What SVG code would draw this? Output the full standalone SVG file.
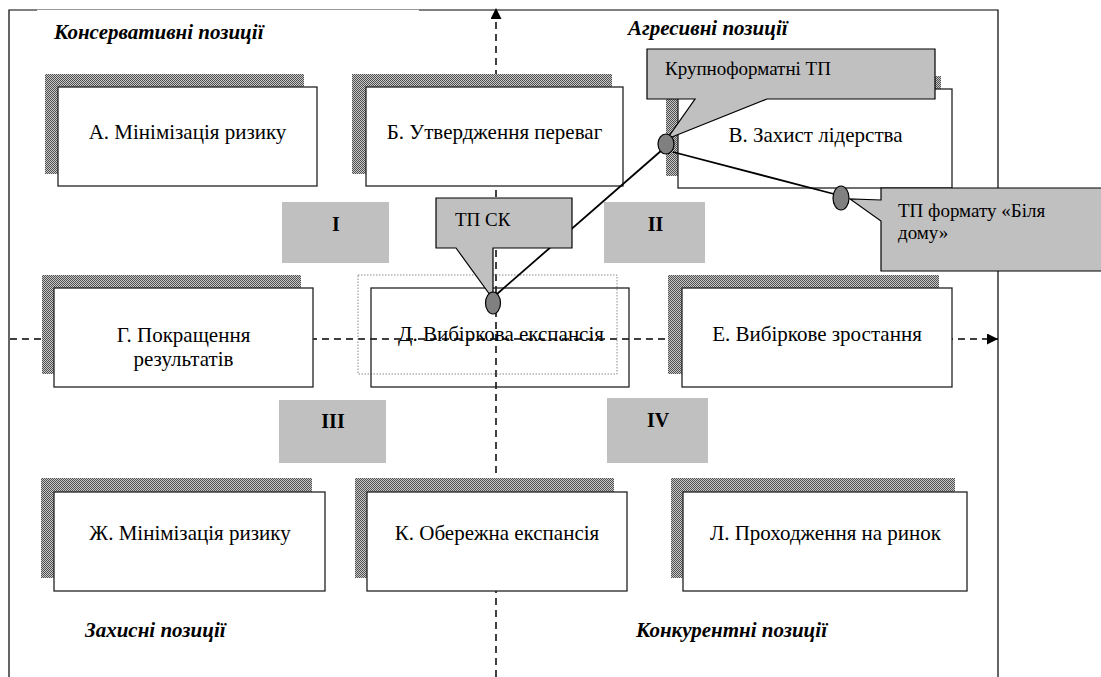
<svg xmlns="http://www.w3.org/2000/svg" width="1101" height="677" viewBox="0 0 1101 677">
<style>
.frame{stroke:#000;stroke-width:1.2;fill:none}
.axis{stroke:#000;stroke-width:1.5;stroke-dasharray:7 5;fill:none}
.quad{fill:#c0c0c0}
.qt{font-family:"Liberation Serif","Times New Roman",serif;font-weight:bold;font-size:20px;text-anchor:middle;fill:#000}
.shadow{fill:url(#dots)}
.box{fill:#fff;stroke:#222;stroke-width:1.3}
.bt{font-family:"Liberation Serif","Times New Roman",serif;font-size:21px;text-anchor:middle;fill:#000}
.hd{font-family:"Liberation Serif","Times New Roman",serif;font-weight:bold;font-style:italic;font-size:21px;fill:#000}
.call{fill:#c0c0c0;stroke:#000;stroke-width:1.2}
.ct{font-family:"Liberation Serif","Times New Roman",serif;font-size:19px;fill:#000}
.link{stroke:#000;stroke-width:1.8;fill:none}
.pt{fill:#808080;stroke:#000;stroke-width:1.2}
</style>
<defs>
<pattern id="dots" width="2" height="2" patternUnits="userSpaceOnUse">
<rect width="2" height="2" fill="#c8c8c8"/>
<rect width="1" height="1" fill="#505050"/>
<rect x="1" y="1" width="1" height="1" fill="#505050"/>
</pattern>
<marker id="arr" viewBox="0 0 10 10" refX="10" refY="5" markerWidth="12" markerHeight="11" markerUnits="userSpaceOnUse" orient="auto">
<path d="M0,0 L10,5 L0,10 Z" fill="#000"/>
</marker>
</defs>
<rect width="1101" height="677" fill="#fff"/>
<g id="frame">
<path class="frame" d="M9,677 V10 H37"/>
<path d="M37,9.5 H419" stroke="#999" stroke-width="1.2"/>
<path class="frame" d="M419,10 H998 V677"/>
</g>
<g id="axes">
<path class="axis" d="M496,677 V8" marker-end="url(#arr)"/>
<path class="axis" d="M10,339 H998" marker-end="url(#arr)"/>
</g>
<g id="quadrants">
<g id="q1"><rect class="quad" x="282" y="202" width="107" height="61"/><text class="qt" x="336" y="231">I</text></g>
<g id="q2"><rect class="quad" x="604" y="202" width="101" height="61"/><text class="qt" x="655.5" y="231">II</text></g>
<g id="q3"><rect class="quad" x="279" y="400" width="107" height="63"/><text class="qt" x="333" y="428">III</text></g>
<g id="q4"><rect class="quad" x="607" y="398" width="101" height="65"/><text class="qt" x="658" y="427">IV</text></g>
</g>
<g id="headings">
<text class="hd" x="54" y="39">Консервативні позиції</text>
<text class="hd" x="628" y="35">Агресивні позиції</text>
<text class="hd" x="85" y="637">Захисні позиції</text>
<text class="hd" x="636" y="637">Конкурентні позиції</text>
</g>
<g id="nodeA"><rect class="shadow" x="45" y="74" width="259" height="100"/><rect class="box" x="58" y="87" width="259" height="99"/><text class="bt" x="187.5" y="139">А. Мінімізація ризику</text></g>
<g id="nodeB"><rect class="shadow" x="352" y="74" width="260" height="100"/><rect class="box" x="366" y="87" width="257" height="99"/><text class="bt" x="494.5" y="139">Б. Утвердження переваг</text></g>
<g id="nodeV"><rect class="shadow" x="666" y="76" width="275" height="100"/><rect class="box" x="678" y="89" width="274" height="99"/><text class="bt" x="815.5" y="142">В. Захист лідерства</text></g>
<g id="nodeG"><rect class="shadow" x="42" y="275" width="259" height="99"/><rect class="box" x="54" y="288" width="259" height="99"/><text class="bt" x="183.5" y="342">Г. Покращення</text><text class="bt" x="183.5" y="366">результатів</text></g>
<g id="nodeD"><rect x="358" y="275" width="259" height="99" fill="none" stroke="#888" stroke-width="1" stroke-dasharray="1.5 1.5"/><rect x="371" y="288" width="258" height="99" fill="none" stroke="#222" stroke-width="1.3"/><text class="bt" x="501" y="341">Д. Вибіркова експансія</text></g>
<g id="nodeE"><rect class="shadow" x="668" y="275" width="271" height="99"/><rect class="box" x="682" y="288" width="270" height="99"/><text class="bt" x="817" y="341">Е. Вибіркове зростання</text></g>
<g id="nodeZh"><rect class="shadow" x="41" y="478" width="271" height="100"/><rect class="box" x="54" y="492" width="271" height="99"/><text class="bt" x="190" y="540">Ж. Мінімізація ризику</text></g>
<g id="nodeK"><rect class="shadow" x="355" y="478" width="259" height="100"/><rect class="box" x="367" y="492" width="260" height="99"/><text class="bt" x="497" y="540">К. Обережна експансія</text></g>
<g id="nodeL"><rect class="shadow" x="671" y="478" width="284" height="100"/><rect class="box" x="683" y="492" width="284" height="99"/><text class="bt" x="825.5" y="540">Л. Проходження на ринок</text></g>
<g id="connectors">
<line class="link" x1="497" y1="294" x2="662" y2="150"/>
<line class="link" x1="673" y1="152" x2="834" y2="194"/>
</g>
<g id="calloutKrup"><path class="call" d="M647,49 H935 V99 H767 L667,139 L695,99 H647 Z"/><text class="ct" x="665" y="75">Крупноформатні ТП</text></g>
<g id="calloutSK"><path class="call" d="M436,198 H572 V248 H493 V299 L456,248 H436 Z"/><text class="ct" x="455" y="226">ТП СК</text></g>
<g id="calloutBilya"><path class="call" d="M881,188 H1103 V271 H881 V221 L850,199 L881,200 Z"/><text class="ct" x="898" y="217">ТП формату «Біля</text><text class="ct" x="898" y="239">дому»</text></g>
<g id="points">
<ellipse class="pt" cx="666" cy="144" rx="8" ry="10"/>
<ellipse class="pt" cx="841" cy="198" rx="8" ry="12"/>
<ellipse class="pt" cx="493" cy="303" rx="7.5" ry="11"/>
</g>
</svg>
